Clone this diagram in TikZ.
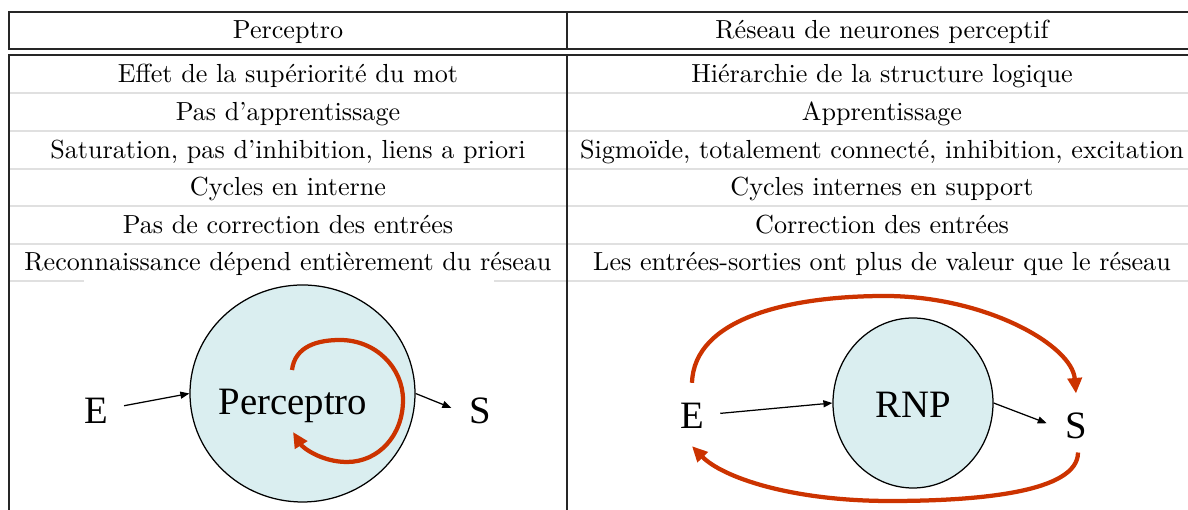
\documentclass[tikz,border=0pt]{standalone}
\usepackage{fontspec}
\newfontfamily\tmsf{Liberation Serif}
\usetikzlibrary{arrows.meta,shapes.geometric}
\definecolor{loopred}{HTML}{CC3300}
\definecolor{cellfill}{HTML}{DAEEF0}
\definecolor{rulegray}{HTML}{E0E0E0}
\begin{document}
\begin{tikzpicture}[x=0.4pt,y=-0.4pt,
  rule/.style={line width=0.55pt, draw=black!85},
  lightrule/.style={line width=0.5pt, draw=rulegray},
  cell/.style={anchor=base, inner sep=0pt, font=\fontsize{10.45}{12.5}\selectfont},
  big/.style={font=\tmsf\fontsize{15.5}{18}\selectfont, inner sep=0pt},
  blob/.style={ellipse, draw=black, line width=0.5pt, fill=cellfill, inner sep=0pt},
  blk/.style={draw=black, line width=0.5pt, -{Triangle[length=3.6pt,width=2.8pt]}},
  redarr/.style={draw=loopred, line width=1.7pt, -{Triangle[length=6.2pt,width=5.6pt]}},
]
\useasboundingbox (0,0) rectangle (1188,510);
% light row rules
\foreach \yy in {93,131,169,206,244} \draw[lightrule] (9,\yy) -- (1188,\yy);
\draw[lightrule] (9,281) -- (84,281);
\draw[lightrule] (494,281) -- (1188,281);
% main rules
\draw[rule] (1188,12) -- (9,12) -- (9,49) -- (1188,49);
\draw[rule] (567,12) -- (567,49);
\draw[rule] (1188,55) -- (9,55) -- (9,510);
\draw[rule] (567,55) -- (567,510);
% header
\node[cell] (hL) at (288,39) {Perceptro};
\node[cell] (hR) at (882,39) {Réseau de neurones perceptif};
% rows
\node[cell] (l1) at (288,83) {Effet de la supériorité du mot};
\node[cell] (r1) at (882,83) {Hiérarchie de la structure logique};
\node[cell] (l2) at (288,121) {Pas d'apprentissage};
\node[cell] (r2) at (882,121) {Apprentissage};
\node[cell] (l3) at (288,159) {Saturation, pas d'inhibition, liens a priori};
\node[cell] (r3) at (882,159) {Sigmoïde, totalement connecté, inhibition, excitation};
\node[cell] (l4) at (288,196) {Cycles en interne};
\node[cell] (r4) at (882,196) {Cycles internes en support};
\node[cell] (l5) at (288,234) {Pas de correction des entrées};
\node[cell] (r5) at (882,234) {Correction des entrées};
\node[cell] (l6) at (288,271) {Reconnaissance dépend entièrement du réseau};
\node[cell] (r6) at (882,271) {Les entrées-sorties ont plus de valeur que le réseau};
% left diagram
\node[blob, minimum width=90pt, minimum height=86.8pt] (P) at (302.5,393.5) {};
\node[big, anchor=base] (Ptxt) at (293,415) {Perceptro};
\node[big] (E1) at (96,411) {E};
\node[big] (S1) at (480.5,411) {S};
\draw[blk, shorten <=6.4pt] (E1) -- (P.west);
\draw[blk, shorten >=7.7pt] (P.east) -- (S1.200);
\draw[redarr] (292,370) .. controls (295,346) and (318,340) .. (340,340)
  .. controls (376,340) and (403,368) .. (403,400)
  .. controls (403,436) and (378,462) .. (347,462)
  .. controls (322,462) and (303,448) .. (293,432);
% right diagram
\node[blob, minimum width=64pt, minimum height=68pt] (R) at (913,403) {};
\node[big, anchor=base] (Rtxt) at (913,418) {RNP};
\node[big] (E2) at (692,416) {E};
\node[big] (S2) at (1076,426) {S};
\draw[blk, shorten <=6.4pt] (E2) -- (R.west);
\draw[blk, shorten >=7.7pt] (R.east) -- (S2.200);
\draw[redarr] ([yshift=8pt]E2.north) .. controls (694,318) and (790,296) .. (885,296)
  .. controls (985,296) and (1072,345) .. ([yshift=7.6pt]S2.north);
\draw[redarr] ([xshift=0.8pt,yshift=-5.2pt]S2.south) .. controls (1078,492) and (980,501) .. (890,501)
  .. controls (790,501) and (722,477) .. ([yshift=-6.8pt]E2.south);
\end{tikzpicture}
\end{document}
